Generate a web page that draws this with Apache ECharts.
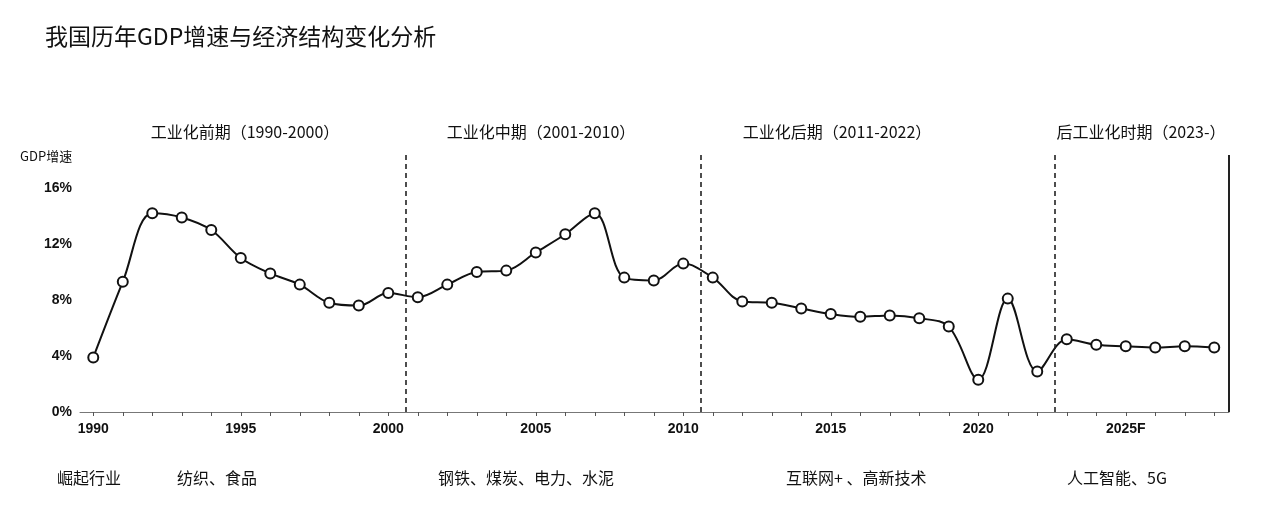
<!DOCTYPE html>
<html>
<head>
<meta charset="utf-8">
<script src="https://cdn.jsdelivr.net/npm/echarts@6/dist/echarts.min.js"></script>
<style>
  html, body { margin: 0; padding: 0; background: #fff; }
  #chart { width: 1268px; height: 516px; }
</style>
</head>
<body>
<div id="chart"></div>
<script>
// 数据
const years = [1990, 1991, 1992, 1993, 1994, 1995, 1996, 1997, 1998, 1999,
  2000, 2001, 2002, 2003, 2004, 2005, 2006, 2007, 2008, 2009,
  2010, 2011, 2012, 2013, 2014, 2015, 2016, 2017, 2018, 2019,
  2020, 2021, 2022, 2023, 2024, 2025, 2026, 2027, 2028];
const gdpGrowth = [3.9, 9.3, 14.2, 13.9, 13.0, 11.0, 9.9, 9.1, 7.8, 7.6,
  8.5, 8.2, 9.1, 10.0, 10.1, 11.4, 12.7, 14.2, 9.6, 9.4,
  10.6, 9.6, 7.9, 7.8, 7.4, 7.0, 6.8, 6.9, 6.7, 6.1,
  2.3, 8.1, 2.9, 5.2, 4.8, 4.7, 4.6, 4.7, 4.6];
const xLabelYears = [1990, 1995, 2000, 2005, 2010, 2015, 2020, 2025];
const yTicks = [0, 4, 8, 12, 16];
const periodBreaks = [2000.6, 2010.6, 2022.6];
const periodNames = ['工业化前期（1990-2000）', '工业化中期（2001-2010）', '工业化后期（2011-2022）', '后工业化时期（2023-）'];
const industryNames = ['崛起行业', '纺织、食品', '钢铁、煤炭、电力、水泥', '互联网+ 、高新技术', '人工智能、5G'];

const font = '"Noto Sans CJK SC", "Noto Sans", sans-serif';
const periodX = [245, 541, 837, 1141];
const industryX = [57, 177, 438, 786, 1067];

let chart = echarts.init(document.getElementById('chart'));
let allYears = [];
for (let y = 1990; y <= 2028; y++) allYears.push(y);

let graphics = [{
  type: 'text', left: 45, top: 25,
  style: { text: '我国历年GDP增速与经济结构变化分析', font: '23px ' + font, fill: '#111' }
}, {
  type: 'text', left: 20, top: 150,
  style: { text: 'GDP增速', font: '13px ' + font, fill: '#111' }
}];
for (let i = 0; i < periodNames.length; i++) {
  graphics.push({
    type: 'text', x: periodX[i], y: 132,
    style: { text: periodNames[i], font: '16px ' + font, fill: '#111', align: 'center', verticalAlign: 'middle' }
  });
}
for (let i = 0; i < industryNames.length; i++) {
  graphics.push({
    type: 'text', x: industryX[i], y: 478,
    style: { text: industryNames[i], font: '16px ' + font, fill: '#111', verticalAlign: 'middle' }
  });
}

chart.setOption({
  animation: false,
  graphic: graphics,
  grid: { left: 80, right: 39, top: 155, bottom: 104 },
  xAxis: {
    type: 'value',
    min: 1989.55,
    max: 2028.5,
    splitLine: { show: false },
    axisLine: { lineStyle: { color: '#777', width: 1 } },
    axisTick: { customValues: allYears, length: 4, lineStyle: { color: '#555' } },
    axisLabel: {
      customValues: xLabelYears,
      color: '#111',
      fontWeight: 'bold',
      fontSize: 14,
      fontFamily: 'Arial, "Liberation Sans", sans-serif',
      margin: 10,
      formatter: function (v) { return v === 2025 ? '2025F' : String(v); }
    }
  },
  yAxis: {
    type: 'value',
    min: 0,
    max: 18.36,
    splitLine: { show: false },
    axisLine: { show: false },
    axisTick: { show: false },
    axisLabel: {
      customValues: yTicks,
      color: '#111',
      fontWeight: 'bold',
      fontSize: 14,
      fontFamily: 'Arial, "Liberation Sans", sans-serif',
      formatter: '{value}%'
    }
  },
  series: [{
    type: 'line',
    data: years.map((y, i) => [y, gdpGrowth[i]]),
    smooth: 0.35,
    symbol: 'emptyCircle',
    symbolSize: 10,
    lineStyle: { color: '#111', width: 2 },
    itemStyle: { color: '#111', borderWidth: 1.6 },
    markLine: {
      silent: true,
      symbol: 'none',
      label: { show: false },
      data: periodBreaks.map(x => ({ xAxis: x, lineStyle: { type: [5, 4], color: '#222', width: 1.6 } }))
        .concat([{ xAxis: 2028.5, lineStyle: { type: 'solid', color: '#222', width: 2 } }])
    }
  }]
});
</script>
</body>
</html>
